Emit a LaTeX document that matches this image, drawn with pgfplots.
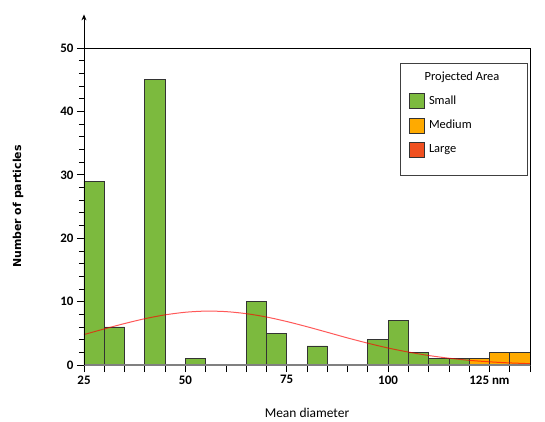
\documentclass[border=0pt]{standalone}
\usepackage{fontspec}
\setmainfont{Carlito}
\newfontfamily\verdanaish{DejaVu Sans}
\usepackage{pgfplots}
\pgfplotsset{compat=1.18}
\usetikzlibrary{calc,arrows.meta}

\definecolor{smallgreen}{RGB}{124,186,62}
\definecolor{medorange}{RGB}{255,170,0}
\definecolor{largered}{RGB}{240,80,32}

\begin{document}
\begin{tikzpicture}
\begin{axis}[
  name=ax,
  scale only axis,
  width=446bp, height=317bp,
  xmin=25, xmax=135,
  ymin=0, ymax=50,
  clip=false,
  axis line style={draw=none},
  tick pos=left,
  tick align=outside,
  major tick length=7bp,
  minor tick length=5bp,
  tick style={black, line width=0.7bp},
  xtick={25,30,...,135},
  xticklabels={25,,,,,50,,,,,75,,,,,100,,,,,125 nm,,},
  ytick={0,10,...,50},
  minor y tick num=4,
  /pgf/number format/assume math mode=true,
  tick label style={font=\bfseries\fontsize{13}{15}\selectfont},
  xlabel={Mean diameter},
  ylabel={Number of particles},
  xlabel style={at={(axis description cs:0.5,-0.151)}, anchor=center,
    font=\fontsize{13.5}{15}\selectfont},
  ylabel style={at={(axis description cs:-0.148,0.5)}, anchor=center,
    font=\verdanaish\bfseries\fontsize{11}{13}\selectfont},
  legend style={draw=none, fill=none,
    at={(axis description cs:0.7287,0.858)}, anchor=north west,
    font=\fontsize{12.5}{14}\selectfont,
    row sep=8.5bp, inner sep=0pt,
    nodes={inner xsep=4bp, inner ysep=1bp}},
  legend cell align=left,
  legend image code/.code={\draw[#1, line width=0.8bp] (0bp,-7.5bp) rectangle (15bp,7.5bp);},
]
% Small
\addplot[ybar, bar width=5, bar shift=0, fill=smallgreen, draw=black!80, line width=0.8bp]
  coordinates {(27.5,29)(32.5,6)(42.5,45)(52.5,1)(67.5,10)(72.5,5)(82.5,3)
               (97.5,4)(102.5,7)(107.5,2)(112.5,1)(117.5,1)};
\addlegendentry{Small}
% Medium
\addplot[ybar, bar width=5, bar shift=0, fill=medorange, draw=black!80, line width=0.8bp]
  coordinates {(122.5,1)(127.5,2)(132.5,2)};
\addlegendentry{Medium}
\addlegendimage{fill=largered, draw=black!80}
\addlegendentry{Large}
% fitted curve
\addplot[red, opacity=0.65, line width=1bp, smooth, forget plot] coordinates {
  (25,4.80)(30,5.69)(35,6.54)(40,7.30)(45,7.91)(50,8.32)(55,8.50)(60,8.42)
  (65,8.10)(70,7.57)(75,6.86)(80,6.04)(85,5.16)(90,4.27)(95,3.44)(100,2.68)
  (105,2.04)(110,1.50)(115,1.07)(120,0.74)(125,0.50)(130,0.33)(135,0.21)};
% frame
\draw[gray, line width=1.2bp] (axis cs:25,0) -- (axis cs:135,0);
\draw[black, line width=0.9bp] (axis cs:135,0) -- (axis cs:135,50) -- (axis cs:25,50);
\draw[black, line width=0.9bp, -{Stealth[length=6bp,width=5bp]}] (axis cs:25,0) -- (axis cs:25,55.3);
% legend box and title
\draw[black!75, line width=0.9bp] (axis description cs:0.7085,0.5994) rectangle (axis description cs:0.9933,0.9527);
\node[font=\fontsize{12.5}{14}\selectfont] at (axis description cs:0.8475,0.9085) {Projected Area};
\end{axis}
\path[use as bounding box] ($(ax.south west)+(-84bp,-57bp)$) rectangle ($(ax.north east)+(15bp,48bp)$);
\end{tikzpicture}
\end{document}
